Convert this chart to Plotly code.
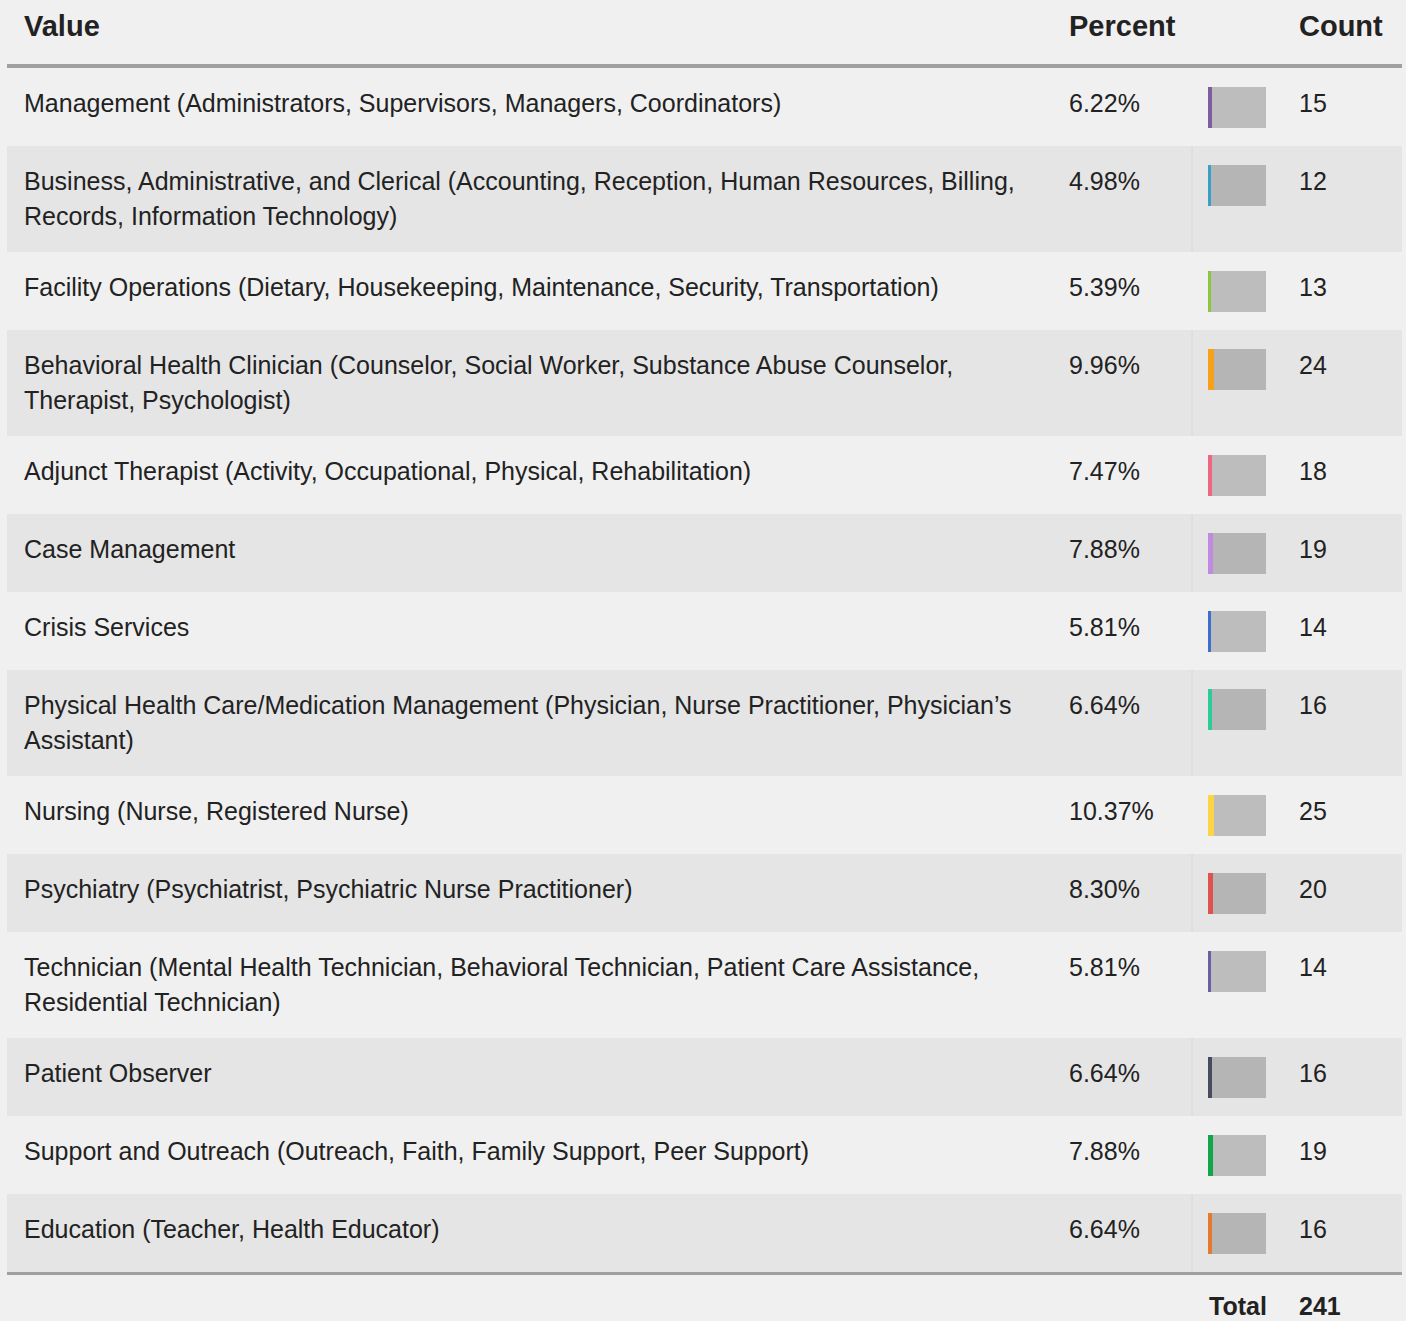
import plotly.graph_objects as go

# ---------------- data ----------------
headers = ["Value", "Percent", "Count"]
categories = [
    "Management (Administrators, Supervisors, Managers, Coordinators)",
    "Business, Administrative, and Clerical (Accounting, Reception, Human Resources, Billing,<br>Records, Information Technology)",
    "Facility Operations (Dietary, Housekeeping, Maintenance, Security, Transportation)",
    "Behavioral Health Clinician (Counselor, Social Worker, Substance Abuse Counselor,<br>Therapist, Psychologist)",
    "Adjunct Therapist (Activity, Occupational, Physical, Rehabilitation)",
    "Case Management",
    "Crisis Services",
    "Physical Health Care/Medication Management (Physician, Nurse Practitioner, Physician\u2019s<br>Assistant)",
    "Nursing (Nurse, Registered Nurse)",
    "Psychiatry (Psychiatrist, Psychiatric Nurse Practitioner)",
    "Technician (Mental Health Technician, Behavioral Technician, Patient Care Assistance,<br>Residential Technician)",
    "Patient Observer",
    "Support and Outreach (Outreach, Faith, Family Support, Peer Support)",
    "Education (Teacher, Health Educator)",
]
percents = [6.22, 4.98, 5.39, 9.96, 7.47, 7.88, 5.81, 6.64, 10.37, 8.30, 5.81, 6.64, 7.88, 6.64]
counts = [15, 12, 13, 24, 18, 19, 14, 16, 25, 20, 14, 16, 19, 16]
swatch_colors = ["#7d5e9e", "#3a9fc6", "#8cc63f", "#f5a11a", "#ee6682", "#c08ae0", "#3d6fd0",
                 "#2ccc9a", "#fdd444", "#df534f", "#6a5fa6", "#474b5f", "#12a54a", "#e47a2e"]
total_label = "Total"
total_value = 241

# ---------------- layout constants (pixels) ----------------
W, H = 1406, 1321
TBL_L, TBL_R = 7, 1402
HEAD_Y = 26
HEAD_LINE_TOP, HEAD_LINE_BOT = 64, 68
LINE_H = 35
PAD = 36
MIN_ROW = 78
X_LABEL = 22
X_PCT = 1067
X_BOX = 1208
BOX_W = 58
BOX_H = 41
BOX_OFF = 19
X_CNT = 1297
X_TOTAL = 1207
X_SEP = 1192
FONT = "Liberation Sans, Arial, Helvetica, sans-serif"
TXT = "#222222"
LIGHT, DARK = "#f0f0f0", "#e5e5e5"
BOX_LIGHT, BOX_DARK = "#bdbdbd", "#b5b5b5"

# row geometry derived from the label line counts
lines = [c.split("<br>") for c in categories]
heights = [max(MIN_ROW, PAD + LINE_H * len(l)) for l in lines]
tops = []
y = HEAD_LINE_BOT
for h in heights:
    tops.append(y)
    y += h
table_bottom = y
centers = [t + h / 2 for t, h in zip(tops, heights)]
row_bg = [LIGHT if i % 2 == 0 else DARK for i in range(len(categories))]
box_bg = [BOX_LIGHT if i % 2 == 0 else BOX_DARK for i in range(len(categories))]
box_centers = [t + BOX_OFF + BOX_H / 2 for t in tops]

fig = go.Figure()

# row backgrounds
fig.add_trace(go.Bar(
    orientation="h", y=centers, x=[TBL_R - TBL_L] * len(categories), base=TBL_L,
    width=heights, marker=dict(color=row_bg, line=dict(width=0)), hoverinfo="skip",
    showlegend=False))

# gray boxes
fig.add_trace(go.Bar(
    orientation="h", y=box_centers, x=[BOX_W] * len(categories), base=X_BOX,
    width=[BOX_H] * len(categories), marker=dict(color=box_bg, line=dict(width=0)),
    hoverinfo="skip", showlegend=False))

# colored percent bars
fig.add_trace(go.Bar(
    orientation="h", y=box_centers, x=[p * BOX_W / 100 for p in percents], base=X_BOX,
    width=[BOX_H] * len(categories), marker=dict(color=swatch_colors, line=dict(width=0)),
    customdata=percents, hovertemplate="%{customdata:.2f}%<extra></extra>",
    showlegend=False))

shapes = []
# header line and bottom line
shapes.append(dict(type="rect", xref="x", yref="y", x0=TBL_L, x1=TBL_R, y0=HEAD_LINE_TOP,
                   y1=HEAD_LINE_BOT, fillcolor="#a0a0a0", line=dict(width=0), layer="above"))
shapes.append(dict(type="rect", xref="x", yref="y", x0=TBL_L, x1=TBL_R, y0=table_bottom,
                   y1=table_bottom + 3, fillcolor="#a0a0a0", line=dict(width=0), layer="above"))
# separators in dark rows
for i, (t, h) in enumerate(zip(tops, heights)):
    if i % 2 == 1:
        shapes.append(dict(type="line", xref="x", yref="y", x0=X_SEP, x1=X_SEP, y0=t, y1=t + h,
                           line=dict(color="#d8d8d8", width=1), layer="above"))

ann = []
def txt(x, y, s, size=25, bold=False):
    ann.append(dict(x=x, y=y, xref="x", yref="y", text=f"<b>{s}</b>" if bold else s,
                    showarrow=False, xanchor="left", yanchor="middle",
                    font=dict(family=FONT, size=size, color=TXT)))

txt(X_LABEL, HEAD_Y, headers[0], 29, True)
txt(X_PCT, HEAD_Y, headers[1], 29, True)
txt(X_CNT, HEAD_Y, headers[2], 29, True)

for i, t in enumerate(tops):
    for k, ln in enumerate(lines[i]):
        txt(X_LABEL, t + LINE_H + k * LINE_H, ln)
    txt(X_PCT, t + LINE_H, f"{percents[i]:.2f}%")
    txt(X_CNT, t + LINE_H, str(counts[i]))

txt(X_TOTAL, table_bottom + 34, total_label, 25, True)
txt(X_CNT, table_bottom + 34, str(total_value), 25, True)

fig.update_layout(
    width=W, height=H, margin=dict(l=0, r=0, t=0, b=0),
    paper_bgcolor=LIGHT, plot_bgcolor=LIGHT, barmode="overlay", bargap=0,
    xaxis=dict(range=[0, W], visible=False, fixedrange=True),
    yaxis=dict(range=[H, 0], visible=False, fixedrange=True),
    shapes=shapes, annotations=ann, showlegend=False,
)

fig.write_html("out.html", config={"displayModeBar": False},
               post_script="document.body.style.margin='0';document.body.style.background='#f0f0f0';")
